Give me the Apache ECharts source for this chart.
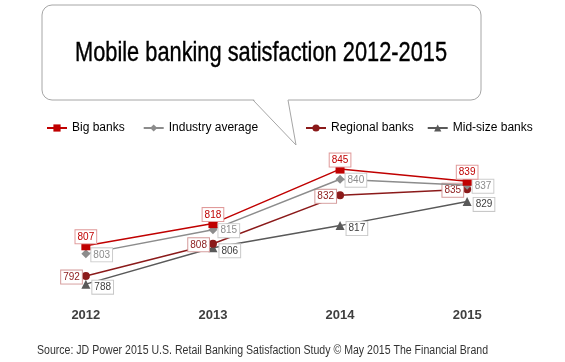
<!DOCTYPE html>
<html>
<head>
<meta charset="utf-8">
<script src="https://cdn.jsdelivr.net/npm/echarts@6/dist/echarts.min.js"></script>
<style>
html,body{margin:0;padding:0;background:#fff;}
#chart{width:565px;height:362px;}
</style>
</head>
<body>
<div id="chart"></div>
<script>
var years = ['2012', '2013', '2014', '2015'];
var bigBanks = [807, 818, 845, 839];
var industryAvg = [803, 815, 840, 837];
var regionalBanks = [792, 808, 832, 835];
var midSizeBanks = [788, 806, 817, 829];
var titleText = 'Mobile banking satisfaction 2012-2015';
var sourceText = 'Source: JD Power 2015 U.S. Retail Banking Satisfaction Study \u00A9 May 2015 The Financial Brand';

var SANS = '"Liberation Sans", Arial, sans-serif';

function fitScale(text, font, target) {
  var c = document.createElement('canvas').getContext('2d');
  c.font = font;
  var w = c.measureText(text).width;
  return w > 0 ? target / w : 1;
}
var titleFont = '28px "Liberation Sans", Arial, sans-serif';
var titleScale = fitScale(titleText, titleFont, 372);
var srcFont = '12.5px "Liberation Sans", Arial, sans-serif';
var srcScale = fitScale(sourceText, srcFont, 451);

function lbl(pos, color, border, dist, offset) {
  return {
    show: true, position: pos, color: color, fontSize: 10, fontFamily: SANS,
    backgroundColor: '#fff', borderColor: border, borderWidth: 1, padding: [2, 2, 1, 2],
    distance: dist, offset: offset
  };
}

var chart = echarts.init(document.getElementById('chart'), null, {renderer: 'canvas'});
chart.setOption({
  animation: false,
  backgroundColor: '#fff',
  graphic: [
    {
      type: 'rect', z: 0, silent: true,
      shape: {x: 42, y: 5, width: 439, height: 95, r: 10},
      style: {fill: '#fff', stroke: '#a6a6a6', lineWidth: 1}
    },
    {
      type: 'polygon', z: 1, silent: true,
      shape: {points: [[253.5, 99], [288, 99], [296, 145]]},
      style: {fill: '#fff', stroke: null}
    },
    {
      type: 'polyline', z: 1, silent: true,
      shape: {points: [[253, 100], [296, 145], [288, 100]]},
      style: {fill: null, stroke: '#a6a6a6', lineWidth: 1}
    },
    {
      type: 'text', z: 2, x: 261, y: 53, scaleX: titleScale,
      style: {text: titleText, font: titleFont, fill: '#000', align: 'center', verticalAlign: 'middle',
              stroke: '#000', lineWidth: 0.4}
    },
    {
      type: 'text', z: 2, x: 262.5, y: 351, scaleX: srcScale,
      style: {text: sourceText, font: srcFont, fill: '#333', align: 'center', verticalAlign: 'middle'}
    }
  ],
  legend: [
    {
      left: 46, top: 122, padding: 0, itemWidth: 20, itemHeight: 9, itemGap: 18,
      data: ['Big banks', 'Industry average'],
      textStyle: {fontFamily: SANS, fontSize: 12, color: '#000'}
    },
    {
      left: 305, top: 122, padding: 0, itemWidth: 20, itemHeight: 9, itemGap: 13,
      data: ['Regional banks', 'Mid-size banks'],
      textStyle: {fontFamily: SANS, fontSize: 12, color: '#000'}
    }
  ],
  grid: {left: 22.3, right: 34.3, top: 159, bottom: 61.7, containLabel: false},
  xAxis: {
    type: 'category', data: years, boundaryGap: true,
    axisLine: {show: false}, axisTick: {show: false},
    axisLabel: {margin: 9, color: '#404040', fontSize: 13, fontWeight: 'bold', fontFamily: SANS}
  },
  yAxis: {type: 'value', min: 780, max: 850, show: false, splitLine: {show: false}},
  series: [
    {
      name: 'Mid-size banks', type: 'line', data: midSizeBanks, z: 2,
      symbol: 'triangle', symbolSize: 9, color: '#595959',
      lineStyle: {width: 1.5, color: '#595959'},
      label: lbl('right', '#404040', '#c8c8c8', 2, [0, 3])
    },
    {
      name: 'Regional banks', type: 'line', data: regionalBanks, z: 3,
      symbol: 'circle', symbolSize: 8, color: '#8b1a1a',
      lineStyle: {width: 1.5, color: '#8b1a1a'},
      label: lbl('left', '#8b1a1a', '#d49a9a', 0, [0, 1])
    },
    {
      name: 'Industry average', type: 'line', data: industryAvg, z: 4,
      symbol: 'diamond', symbolSize: 9, color: '#8c8c8c',
      lineStyle: {width: 1.5, color: '#8c8c8c'},
      label: lbl('right', '#8c8c8c', '#cccccc', 1, [0, 1])
    },
    {
      name: 'Big banks', type: 'line', data: bigBanks, z: 5,
      symbol: 'rect', symbolSize: 9, color: '#c00000',
      lineStyle: {width: 1.5, color: '#c00000'},
      label: lbl('top', '#c00000', '#e09a9a', 0, [0, 2])
    }
  ]
});
</script>
</body>
</html>
